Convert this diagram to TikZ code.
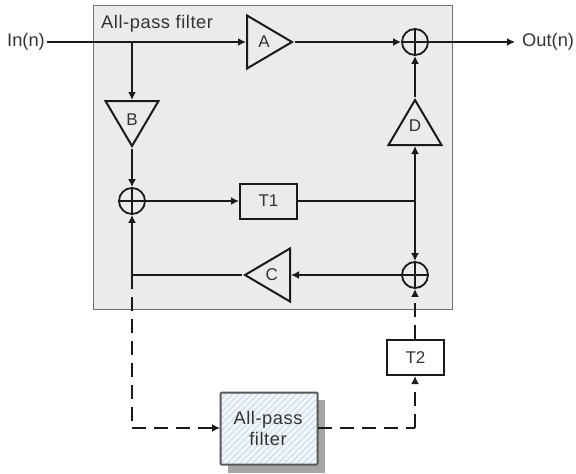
\documentclass[tikz,border=0pt]{standalone}
\usepackage{fontspec}
\setmainfont{Liberation Sans}
\newfontfamily\widefont[LetterSpace=3]{Liberation Sans}
\usetikzlibrary{arrows.meta,shapes.geometric,patterns.meta}
\definecolor{ink}{HTML}{1A1A1A}
\definecolor{txt}{HTML}{333333}
\definecolor{hatchblue}{HTML}{CFDDF0}
\definecolor{paleblue}{HTML}{F3F6FB}
\tikzset{
  wire/.style={draw=ink,line width=1.8pt},
  arr/.style={wire,-{Latex[length=8pt,width=8pt]}},
  dashwire/.style={wire,dash pattern=on 14pt off 8pt},
  dasharr/.style={dashwire,-{Latex[length=8pt,width=8pt]}},
  tri/.style={shape=isosceles triangle,draw=ink,line width=2pt,inner sep=0pt,
    isosceles triangle stretches,minimum width=53pt,minimum height=45pt},
  trilab/.style={text=txt,inner sep=0pt,font=\fontsize{17}{17}\selectfont},
  delaybox/.style={rectangle,draw=ink,line width=2pt,minimum width=57pt,minimum height=35pt,
    inner sep=0pt,text=txt,font=\fontsize{17}{17}\selectfont},
  sumnode/.style={circle,draw=ink,line width=1.8pt,minimum size=26pt,inner sep=0pt},
  lab/.style={text=txt,inner sep=0pt,font=\fontsize{18.3}{18.3}\selectfont},
}
\begin{document}
\begin{tikzpicture}[x=1pt,y=-1pt]
\useasboundingbox (0,0) rectangle (576,474);
% panel
\node[rectangle,draw=black!55,line width=1pt,fill=black!8,minimum width=359pt,minimum height=304pt,inner sep=0pt,anchor=north west] (panel) at (93,5) {};
\node[lab,anchor=west,font=\fontsize{18.3}{18.3}\widefont] (title) at (101,24) {All-pass filter};
% labels
\node[lab,anchor=east] (in) at (45,42) {In(n)};
\node[lab,anchor=west] (out) at (522,42) {Out(n)};
\coordinate (instart) at (47,42);
\coordinate (outend) at (515,42);
% gains
\node[tri,anchor=lower side,shape border rotate=0,label={[trilab,xshift=2pt]center:A}] (A) at (246,42) {};
\node[tri,anchor=lower side,shape border rotate=-90,label={[trilab,yshift=-4pt]center:B}] (B) at (132,100) {};
\node[tri,anchor=lower side,shape border rotate=90,label={[trilab,yshift=4pt]center:D}] (D) at (415,146) {};
\node[tri,anchor=lower side,shape border rotate=180,label={[trilab,xshift=-3pt]center:C}] (C) at (291,275) {};
% sums
\node[sumnode] (s1) at (415,42) {};
\node[sumnode] (s2) at (132,201) {};
\node[sumnode] (s3) at (415,275) {};
\foreach \s in {s1,s2,s3}{
  \draw[draw=ink,line width=1.2pt] (\s.north) -- (\s.south) (\s.west) -- (\s.east);
}
% delays
\node[delaybox] (T1) at (268.5,201) {T1};
\node[delaybox] (T2) at (415.5,357.5) {T2};
% nested filter
\node[rectangle,fill=black!35,minimum width=97pt,minimum height=73pt,inner sep=0pt,anchor=north west] (shadow) at (228,400) {};
\node[rectangle,rounded corners=1pt,draw=black!65,line width=1.8pt,
  preaction={fill=paleblue},
  pattern={Lines[angle=45,distance=4.5pt,line width=1.2pt]},pattern color=hatchblue,
  minimum width=97pt,minimum height=72pt,inner sep=0pt,anchor=north west] (f) at (220,392) {};
\node[lab,align=center,text=txt,font=\fontsize{18.3}{21}\widefont] (ftext) at (268,428) {All-pass\\filter};
% junctions
\coordinate (in1) at (132,42);
\coordinate (j1) at (415,201);
\coordinate (j2) at (132,275);
\coordinate (fl) at (132,428);
\coordinate (fr) at (415,428);
% connectors
\draw[arr] (instart) -- (A.lower side);
\draw[arr] (in1) -- (B.lower side);
\draw[arr] (A.apex) -- (s1);
\draw[arr] (s1.east) -- (outend);
\draw[arr] (D.apex) -- (s1);
\draw[arr] (B.apex) -- (s2);
\draw[arr] (s2) -- (T1);
\draw[wire] (T1) -- (j1);
\draw[arr] (j1) -- (D.lower side);
\draw[arr] (j1) -- (s3);
\draw[arr] (s3) -- (C.lower side);
\draw[wire] (C.apex) -- (j2);
\draw[arr] (j2) -- (s2);
\draw[dashwire] (j2) -- (fl);
\draw[dasharr] (fl) -- (f.west |- fl);
\draw[dashwire] (f.east |- fr) -- (fr);
\draw[dasharr] (fr) -- (T2.south -| fr);
\draw[dasharr] (T2.north -| s3) -- (s3);
\end{tikzpicture}
\end{document}
